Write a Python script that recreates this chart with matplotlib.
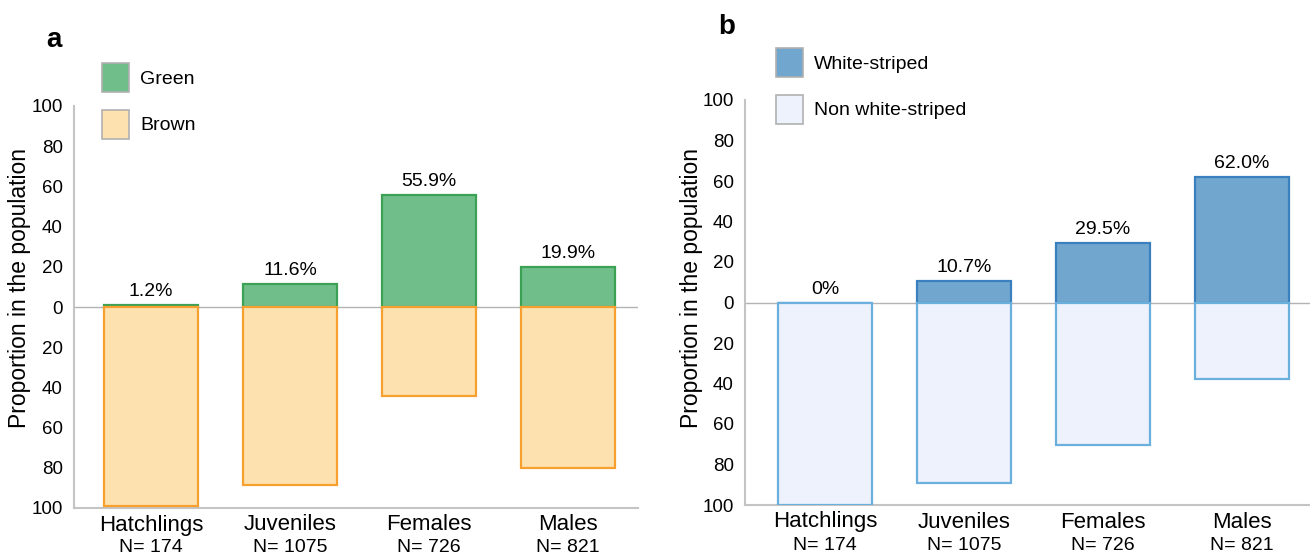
import numpy as np
import matplotlib.pyplot as plt
from matplotlib.patches import Patch

plt.rcParams['font.family'] = ['Liberation Sans', 'DejaVu Sans']

stages = ['Hatchlings', 'Juveniles', 'Females', 'Males']
sizes = [174, 1075, 726, 821]
green = [1.2, 11.6, 55.9, 19.9]
striped = [0.0, 10.7, 29.5, 62.0]
brown = [100 - v for v in green]
non_striped = [100 - v for v in striped]

W, H = 1310, 560
fig = plt.figure(figsize=(W / 100, H / 100), dpi=100)

def px_axes(x0, y0, x1, y1):
    # axes box given in pixel coords from the top-left corner
    return fig.add_axes([x0 / W, 1 - y1 / H, (x1 - x0) / W, (y1 - y0) / H])

def panel(ax, up, down, up_col, down_col, xlim):
    x = np.arange(len(stages))
    ax.bar(x, up, width=0.67, color=up_col[0], edgecolor=up_col[1], linewidth=1.6, zorder=3)
    ax.bar(x, [-v for v in down], width=0.67, color=down_col[0], edgecolor=down_col[1],
           linewidth=1.6, zorder=3)
    ax.axhline(0, color='#b3b3b3', lw=1.0, zorder=2)
    for xi, v in zip(x, up):
        txt = '0%' if v == 0 else '%.1f%%' % v
        ax.annotate(txt, (xi, v), xytext=(0, 5), textcoords='offset pixels',
                    ha='center', va='bottom', fontsize=14)
    for xi, name, n in zip(x, stages, sizes):
        ax.annotate(name, (xi, 0), xycoords=('data', 'axes fraction'), xytext=(0, -17),
                    textcoords='offset pixels', ha='center', va='center', fontsize=16)
        ax.annotate('N= %d' % n, (xi, 0), xycoords=('data', 'axes fraction'), xytext=(0, -40),
                    textcoords='offset pixels', ha='center', va='center', fontsize=14)
    ax.set_xlim(*xlim)
    ax.set_ylim(-100, 100)
    ticks = np.arange(-100, 101, 20)
    ax.set_yticks(ticks)
    ax.set_yticklabels([str(abs(t)) for t in ticks], fontsize=13.5)
    ax.set_xticks([])
    ax.tick_params(axis='y', length=0, pad=8)
    for s in ['top', 'right']:
        ax.spines[s].set_visible(False)
    for s in ['left', 'bottom']:
        ax.spines[s].set_color('#c4c4c4')
        ax.spines[s].set_linewidth(1.5)

green_c = ('#70bf8a', '#3da155')
brown_c = ('#fde2b0', '#f7a030')
blue_c = ('#71a7cf', '#3a80be')
pale_c = ('#eef2fc', '#6bb0dc')

ax1 = px_axes(74, 106, 638, 508)
panel(ax1, green, brown, green_c, brown_c, (-0.554, 3.504))
ax2 = px_axes(745, 100, 1310, 505)
panel(ax2, striped, non_striped, blue_c, pale_c, (-0.576, 3.489))

def key(labels, cols, x, y):
    handles = [Patch(facecolor=c[0], edgecolor='#b0b0b0', linewidth=1.2) for c in cols]
    fig.legend(handles, labels, loc='upper left', bbox_to_anchor=(x / W, 1 - y / H),
               frameon=False, fontsize=14, handlelength=1.4, handleheight=1.92,
               labelspacing=0.9, handletextpad=0.55, borderpad=0, borderaxespad=0)

key(['Green', 'Brown'], [green_c, brown_c], 102, 63)
key(['White-striped', 'Non white-striped'], [blue_c, pale_c], 776, 48)

fig.text(54 / W, 1 - 40 / H, 'a', fontsize=20, fontweight='bold', ha='center', va='center')
fig.text(727 / W, 1 - 27 / H, 'b', fontsize=20, fontweight='bold', ha='center', va='center')
fig.text(20 / W, 1 - 288 / H, 'Proportion in the population', rotation=90,
         ha='center', va='center', fontsize=16.5)
fig.text(692 / W, 1 - 288 / H, 'Proportion in the population', rotation=90,
         ha='center', va='center', fontsize=16.5)

fig.savefig('out.png', dpi=100)
